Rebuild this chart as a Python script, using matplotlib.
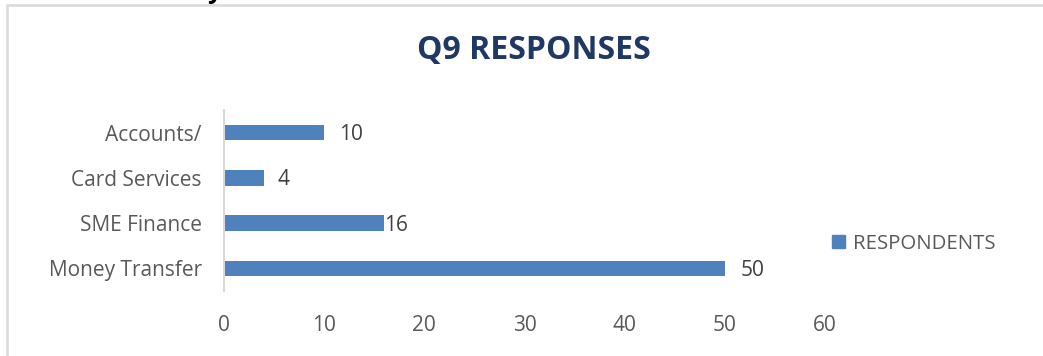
import matplotlib.pyplot as plt
from matplotlib.patches import Rectangle, Patch

categories = ['Money Transfer', 'SME Finance', 'Card Services', 'Accounts/']
values = [50, 16, 4, 10]
xticks = [0, 10, 20, 30, 40, 50, 60]
title = 'Q9 RESPONSES'
series = 'RESPONDENTS'

bar_color = '#4f81bd'
text_color = '#595959'
plt.rcParams['font.family'] = ['Open Sans', 'DejaVu Sans']

fig = plt.figure(figsize=(10.43, 3.56), dpi=100)

# chart frame, cut off at right and bottom like the screenshot
fig.add_artist(Rectangle((7 / 1043, -0.2), 1.2, 1 - 5 / 356 + 0.2,
                         transform=fig.transFigure, fill=False,
                         edgecolor='#d9d9d9', linewidth=1.8))
# bit of the text above the chart that got cut off
fig.text(26 / 1043, 1 + 9 / 356, 'interested in by', fontsize=18,
         fontweight='bold', color='black', va='center', ha='left')

ax = fig.add_axes([224 / 1043, 1 - 291 / 356, 601 / 1043, 181 / 356])
pos = list(range(len(categories)))
bars = ax.barh(pos, values, height=0.34, color=bar_color, label=series)

# data labels (SME one sits on the bar end in the original)
offsets = [16, 0, 13, 15]
for b, v, off in zip(bars, values, offsets):
    ax.annotate(str(v), (b.get_width(), b.get_y() + b.get_height() / 2),
                xytext=(off, -2), textcoords='offset pixels',
                va='center', ha='left', fontsize=15, color='#404040')

ax.set_xlim(0, 60)
ax.set_ylim(-0.5, 3.5)
ax.set_xticks(xticks)
ax.set_yticks(pos)
ax.set_yticklabels(categories)
ax.tick_params(axis='both', length=0, labelsize=15, labelcolor=text_color)
ax.tick_params(axis='x', pad=17)
ax.tick_params(axis='y', pad=16)
for s in ['top', 'right', 'bottom']:
    ax.spines[s].set_visible(False)
ax.spines['left'].set_color('#d9d9d9')
ax.spines['left'].set_linewidth(1.5)

fig.text(534 / 1043, 1 - 50 / 356, title, fontsize=23, fontweight='bold',
         color='#1f3864', ha='center', va='center')

fig.legend(handles=[Patch(color=bar_color, label=series)],
           loc='center left', bbox_to_anchor=(814 / 1043, 1 - 244 / 356),
           frameon=False, fontsize=14.7, labelcolor=text_color,
           handlelength=0.6, handleheight=0.6, handletextpad=0.4)

fig.savefig('out.png', dpi=100)
